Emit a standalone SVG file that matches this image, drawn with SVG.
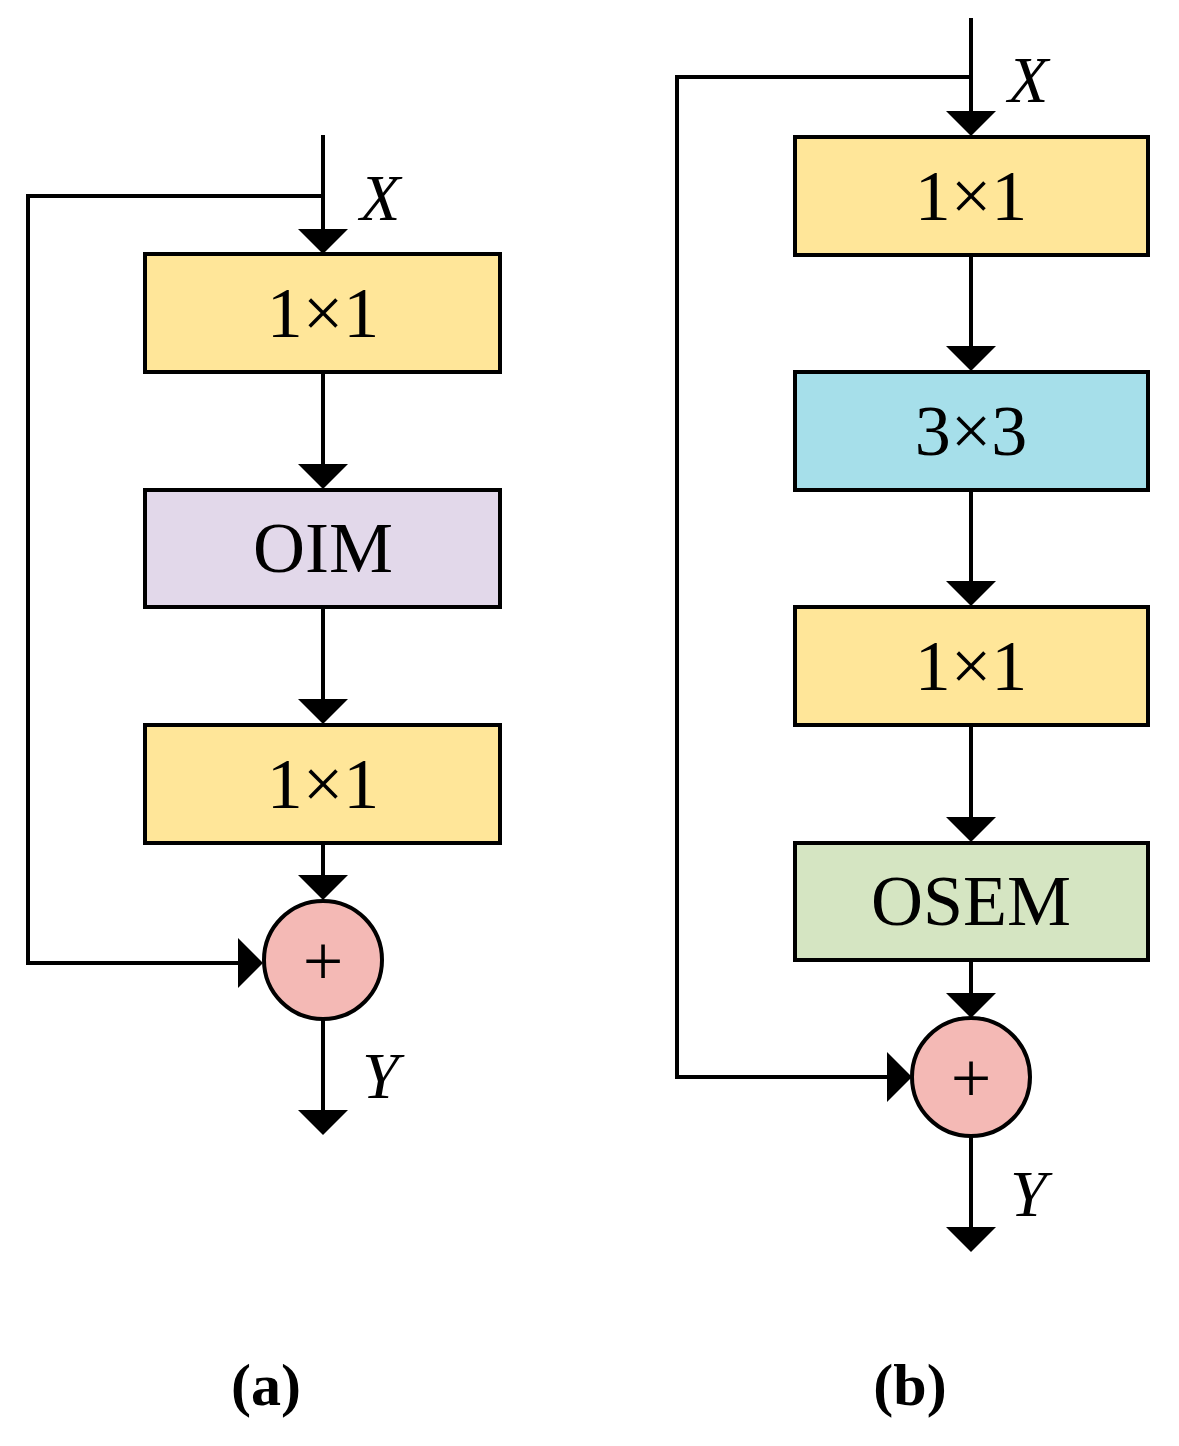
<svg xmlns="http://www.w3.org/2000/svg" width="1179" height="1446" viewBox="0 0 1179 1446">
<style>
.b{stroke:#000;stroke-width:4}
.t{font-family:"Liberation Serif",serif;font-size:72px;text-anchor:middle}
.i{font-family:"Liberation Serif",serif;font-size:66px;font-style:italic}
.l{font-family:"Liberation Serif",serif;font-size:60px;font-weight:bold;text-anchor:middle}
.c{fill:none;stroke:#000;stroke-width:4}
</style>
<rect width="1179" height="1446" fill="#fff"/>
<g id="connectors">
<path class="c" d="M323 135V235M323 372V465M323 607V700M323 843V878M323 1020V1112M323 196H28V963H240"/>
<path class="c" d="M971 18V112M971 255V348M971 490V583M971 725V818M971 960V995M971 1136V1228M971 77H677V1077H890"/>
<g fill="#000">
<path d="M298 229H348L323 254Z"/><path d="M298 464H348L323 489Z"/><path d="M298 699H348L323 724Z"/><path d="M298 875H348L323 900Z"/><path d="M298 1110H348L323 1135Z"/><path d="M238 938V988L263 963Z"/>
<path d="M946 111H996L971 136Z"/><path d="M946 346H996L971 371Z"/><path d="M946 581H996L971 606Z"/><path d="M946 817H996L971 842Z"/><path d="M946 993H996L971 1018Z"/><path d="M946 1227H996L971 1252Z"/><path d="M887 1052V1102L912 1077Z"/>
</g>
</g>
<g id="a1"><rect class="b" x="145" y="254" width="355" height="118" fill="#FFE699"/><text class="t" x="323" y="337">1×1</text></g>
<g id="aOIM"><rect class="b" x="145" y="490" width="355" height="117" fill="#E2D8EA"/><text class="t" x="323" y="572">OIM</text></g>
<g id="a2"><rect class="b" x="145" y="725" width="355" height="118" fill="#FFE699"/><text class="t" x="323" y="808">1×1</text></g>
<g id="aplus"><circle class="b" cx="323" cy="960" r="59" fill="#F4B9B5"/><text class="t" x="323" y="985">+</text></g>
<text class="i" x="360" y="220">X</text>
<text class="i" x="362" y="1098">Y</text>
<text class="l" x="266" y="1405">(a)</text>
<g id="b1"><rect class="b" x="795" y="137" width="353" height="118" fill="#FFE699"/><text class="t" x="971" y="220">1×1</text></g>
<g id="b3"><rect class="b" x="795" y="372" width="353" height="118" fill="#A6DFEA"/><text class="t" x="971" y="455">3×3</text></g>
<g id="b2"><rect class="b" x="795" y="607" width="353" height="118" fill="#FFE699"/><text class="t" x="971" y="690">1×1</text></g>
<g id="bOSEM"><rect class="b" x="795" y="843" width="353" height="117" fill="#D5E5C2"/><text class="t" x="971" y="925">OSEM</text></g>
<g id="bplus"><circle class="b" cx="971" cy="1077" r="59" fill="#F4B9B5"/><text class="t" x="971" y="1102">+</text></g>
<text class="i" x="1008" y="102">X</text>
<text class="i" x="1010" y="1216">Y</text>
<text class="l" x="910" y="1405">(b)</text>
</svg>
